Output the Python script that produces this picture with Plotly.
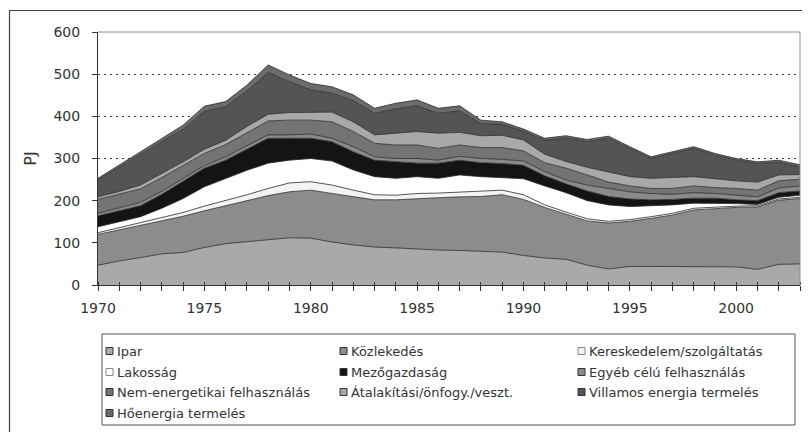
import plotly.graph_objects as go

years = list(range(1970, 2004))
tick_labels = [str(y) if y % 5 == 0 else "" for y in years]

names = ["Ipar", "Közlekedés", "Kereskedelem/szolgáltatás", "Lakosság", "Mezőgazdaság",
         "Egyéb célú felhasználás", "Nem-energetikai felhasználás", "Átalakítási/önfogy./veszt.",
         "Villamos energia termelés", "Hőenergia termelés"]

ipar = [47, 57, 65, 74, 77, 89, 98, 103, 107, 112, 111, 102, 95, 90, 88, 85, 83, 82, 80, 78, 70, 64, 61, 47, 38, 44, 44, 44, 43, 43, 43, 37, 49, 50]
kozlekedes = [73, 74, 77, 78, 86, 87, 90, 97, 105, 109, 114, 115, 114, 112, 114, 120, 124, 127, 130, 136, 133, 120, 107, 105, 109, 107, 114, 122, 135, 138, 141, 148, 152, 155]
kereskedelem = [4, 5, 6, 8, 9, 11, 12, 14, 17, 21, 20, 20, 16, 12, 11, 12, 11, 11, 12, 11, 11, 6, 5, 5, 4, 4, 4, 4, 4, 4, 3, 3, 3, 3]
lakossag = [14, 14, 14, 22, 33, 46, 53, 58, 60, 54, 55, 57, 48, 43, 40, 40, 35, 41, 35, 30, 38, 45, 46, 43, 39, 31, 26, 20, 12, 9, 6, 3, 4, 5]
mezogazdasag = [26, 26, 26, 33, 40, 44, 43, 50, 59, 52, 48, 46, 43, 39, 39, 32, 36, 35, 33, 33, 32, 24, 21, 23, 20, 18, 14, 13, 12, 12, 9, 9, 11, 10]
egyeb = [6, 7, 8, 7, 7, 6, 8, 8, 8, 8, 10, 8, 12, 8, 8, 11, 7, 9, 10, 10, 10, 10, 9, 14, 19, 17, 15, 12, 13, 11, 11, 9, 11, 12]
nem_energetikai = [33, 32, 32, 33, 31, 29, 29, 32, 33, 35, 33, 39, 36, 32, 32, 32, 28, 27, 26, 28, 24, 21, 28, 24, 15, 14, 12, 14, 16, 14, 16, 16, 17, 16]
atalakitasi = [6, 7, 9, 9, 9, 10, 10, 14, 16, 18, 19, 23, 23, 20, 28, 32, 36, 30, 28, 29, 26, 20, 16, 18, 24, 22, 24, 26, 22, 21, 18, 19, 14, 11]
villamos = [40, 58, 73, 76, 77, 90, 80, 84, 99, 73, 53, 45, 50, 51, 58, 61, 47, 51, 29, 26, 21, 33, 56, 61, 80, 67, 47, 57, 67, 56, 49, 44, 30, 18]
hoenergia = [4, 5, 6, 8, 10, 12, 12, 14, 18, 16, 15, 15, 14, 12, 13, 14, 12, 12, 8, 6, 5, 5, 5, 5, 5, 4, 4, 4, 4, 4, 4, 4, 5, 5]

series = [ipar, kozlekedes, kereskedelem, lakossag, mezogazdasag, egyeb,
          nem_energetikai, atalakitasi, villamos, hoenergia]
colors = ["#a9a9a9", "#8c8c8c", "#f3f3f3", "#ffffff", "#141414",
          "#8a8a8a", "#747474", "#a8a8a8", "#545454", "#6b6b6b"]

# the page body has an 8px default margin: size the figure to the visible window
OFF = 8
W, H = 810 - OFF, 432 - OFF
L, T = 98 - OFF, 32 - OFF
R = W - (800 - OFF)
B = H - (285 - OFF)
PW, PH = W - L - R, H - T - B


def px(xw):
    """window x pixel -> paper x"""
    return (xw - OFF - L) / PW


def py(yw):
    """window y pixel -> paper y"""
    return (H - B - (yw - OFF)) / PH


FONT = "DejaVu Sans"
TXT = "#333333"

fig = go.Figure()
for name, vals, col in zip(names, series, colors):
    fig.add_trace(go.Scatter(
        x=years, y=vals, name=name, stackgroup="one", mode="lines",
        line=dict(color="#2a2a2a", width=0.8), fillcolor=col, showlegend=False,
        hovertemplate="%{x}: %{y} PJ<extra>" + name + "</extra>"))

shapes = [
    dict(type="line", xref="paper", yref="paper", x0=0, x1=1, y0=1, y1=1,
         line=dict(color="#8a8a8a", width=1), layer="above"),
    dict(type="line", xref="paper", yref="paper", x0=1, x1=1, y0=0, y1=1,
         line=dict(color="#8a8a8a", width=1), layer="above"),
    dict(type="rect", xref="paper", yref="paper", x0=px(9.5), x1=px(840), y0=py(470), y1=py(10.5),
         line=dict(color="#444444", width=1.2), layer="below"),
    dict(type="rect", xref="paper", yref="paper", x0=px(102), x1=px(795), y0=py(425), y1=py(334),
         line=dict(color="#555555", width=1), layer="above"),
]

annotations = []
col_x = [106, 340, 578]
row_y = [351, 372, 392, 413]
for i, (name, col) in enumerate(zip(names, colors)):
    r, c = divmod(i, 3)
    x0, yc = col_x[c], row_y[r]
    border = "#888888" if col in ("#ffffff", "#f3f3f3") else "#333333"
    shapes.append(dict(type="rect", xref="paper", yref="paper",
                       x0=px(x0), x1=px(x0 + 7), y0=py(yc + 3.5), y1=py(yc - 3.5),
                       fillcolor=col, line=dict(color=border, width=1), layer="above"))
    annotations.append(dict(xref="paper", yref="paper", x=px(x0 + 9), y=py(yc),
                            text=name, showarrow=False, xanchor="left", yanchor="middle",
                            font=dict(family=FONT, size=13, color=TXT)))

fig.update_layout(
    width=W, height=H,
    margin=dict(l=L, r=R, t=T, b=B, autoexpand=False),
    paper_bgcolor="white", plot_bgcolor="white",
    showlegend=False,
    shapes=shapes, annotations=annotations,
    font=dict(family=FONT, size=13, color=TXT),
    xaxis=dict(range=[1970, 2003], tickmode="array", tickvals=years, ticktext=tick_labels,
               ticks="outside", ticklen=5, tickcolor="#333333", tickwidth=1,
               showline=True, linecolor="#333333", linewidth=1,
               showgrid=False, zeroline=False, ticklabelstandoff=5,
               tickfont=dict(family=FONT, size=14, color=TXT),
               minor=dict(ticks="inside", ticklen=3, tickcolor="#333333", dtick=1, tick0=1970, showgrid=False)),
    yaxis=dict(range=[0, 600], dtick=100, tick0=0,
               ticks="outside", ticklen=5, tickcolor="#333333",
               showline=True, linecolor="#333333", linewidth=1,
               showgrid=True, gridcolor="#3a3a3a", gridwidth=1.3, griddash="2px,4px",
               zeroline=False, ticklabelstandoff=9,
               tickfont=dict(family=FONT, size=14, color=TXT),
               title=dict(text="PJ", standoff=12, font=dict(family=FONT, size=16, color=TXT))),
)

fig.write_html("out.html")
